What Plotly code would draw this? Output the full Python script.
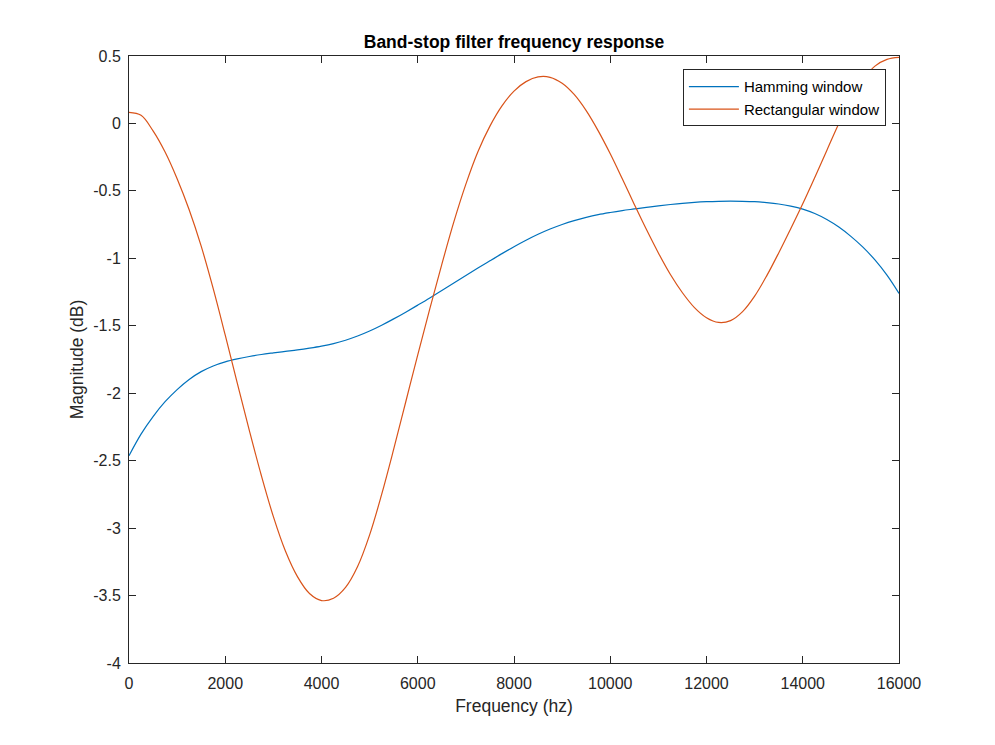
import plotly.graph_objects as go

# frequency grid (Hz) that the values were read at, 250 Hz apart
freq = [0, 250, 500, 750, 1000, 1250, 1500, 1750, 2000, 2250, 2500, 2750,
        3000, 3250, 3500, 3750, 4000, 4250, 4500, 4750, 5000, 5250, 5500,
        5750, 6000, 6250, 6500, 6750, 7000, 7250, 7500, 7750, 8000, 8250,
        8500, 8750, 9000, 9250, 9500, 9750, 10000, 10250, 10500, 10750,
        11000, 11250, 11500, 11750, 12000, 12250, 12500, 12750, 13000,
        13250, 13500, 13750, 14000, 14250, 14500, 14750, 15000, 15250,
        15500, 15750, 16000]

# magnitude in dB
hamming_db = [-2.463, -2.303, -2.173, -2.063, -1.973, -1.898, -1.84, -1.798,
              -1.768, -1.746, -1.728, -1.713, -1.701, -1.69, -1.679, -1.666,
              -1.651, -1.632, -1.607, -1.576, -1.539, -1.496, -1.449, -1.399,
              -1.347, -1.294, -1.238, -1.183, -1.127, -1.072, -1.018, -0.965,
              -0.914, -0.866, -0.822, -0.783, -0.749, -0.72, -0.696, -0.676,
              -0.66, -0.646, -0.634, -0.622, -0.611, -0.601, -0.592, -0.585,
              -0.58, -0.577, -0.576, -0.577, -0.58, -0.587, -0.597, -0.613,
              -0.635, -0.668, -0.712, -0.768, -0.837, -0.917, -1.012, -1.125,
              -1.26]

rect_db = [0.082, 0.06, -0.055, -0.212, -0.41, -0.64, -0.91, -1.225,
           -1.57, -1.925, -2.275, -2.61, -2.915, -3.17, -3.36, -3.485,
           -3.537, -3.52, -3.44, -3.285, -3.05, -2.75, -2.415, -2.065,
           -1.715, -1.375, -1.045, -0.73, -0.45, -0.21, -0.02, 0.13,
           0.24, 0.31, 0.345, 0.342, 0.298, 0.215, 0.095, -0.055,
           -0.225, -0.41, -0.6, -0.785, -0.96, -1.12, -1.255, -1.365,
           -1.44, -1.475, -1.462, -1.395, -1.28, -1.13, -0.96, -0.78,
           -0.595, -0.4, -0.2, 0.0, 0.18, 0.325, 0.425, 0.475, 0.49]

x_ticks = [0, 2000, 4000, 6000, 8000, 10000, 12000, 14000, 16000]
y_ticks = [0.5, 0, -0.5, -1, -1.5, -2, -2.5, -3, -3.5, -4]
y_tick_labels = ['0.5', '0', '-0.5', '-1', '-1.5', '-2', '-2.5', '-3', '-3.5', '-4']

AXIS_COLOR = '#262626'
FONT = 'Liberation Sans, Arial, sans-serif'

fig = go.Figure()
fig.add_trace(go.Scatter(x=freq, y=hamming_db, mode='lines', name='Hamming window',
                         line=dict(color='#0072BD', width=1.2, shape='spline', smoothing=1.0)))
fig.add_trace(go.Scatter(x=freq, y=rect_db, mode='lines', name='Rectangular window',
                         line=dict(color='#D95319', width=1.2, shape='spline', smoothing=1.0)))

fig.update_xaxes(range=[0, 16000], tickvals=x_ticks, tickformat='d',
                 ticks='inside', ticklen=7, tickcolor=AXIS_COLOR, mirror='ticks',
                 showline=True, linecolor=AXIS_COLOR, linewidth=1,
                 showgrid=False, zeroline=False, ticklabelstandoff=6,
                 tickfont=dict(size=16, color=AXIS_COLOR),
                 title=dict(text='Frequency (hz)', font=dict(size=17.5, color=AXIS_COLOR), standoff=8))
fig.update_yaxes(range=[-4, 0.5], tickvals=y_ticks, ticktext=y_tick_labels,
                 ticks='inside', ticklen=7, tickcolor=AXIS_COLOR, mirror='ticks',
                 showline=True, linecolor=AXIS_COLOR, linewidth=1,
                 showgrid=False, zeroline=False, ticklabelstandoff=4,
                 tickfont=dict(size=16, color=AXIS_COLOR),
                 title=dict(text='Magnitude (dB)', font=dict(size=17.5, color=AXIS_COLOR), standoff=5))

# the page puts the figure ~8px in from the top-left corner
fig.update_layout(
    width=995, height=745,
    margin=dict(l=121, r=104, t=48, b=90),
    paper_bgcolor='white', plot_bgcolor='white',
    font=dict(family=FONT, color=AXIS_COLOR),
    title=dict(text='<b>Band-stop filter frequency response</b>',
               font=dict(size=17.5, color='black'),
               x=0.5, xref='paper', xanchor='center',
               y=1 - 34 / 745, yref='container', yanchor='middle'),
    legend=dict(x=0.983, y=0.978, xanchor='right', yanchor='top',
                bgcolor='white', bordercolor=AXIS_COLOR, borderwidth=1,
                font=dict(size=15, color='black'), itemwidth=50,
                tracegroupgap=0),
    showlegend=True,
)

fig.write_html("out.html")
